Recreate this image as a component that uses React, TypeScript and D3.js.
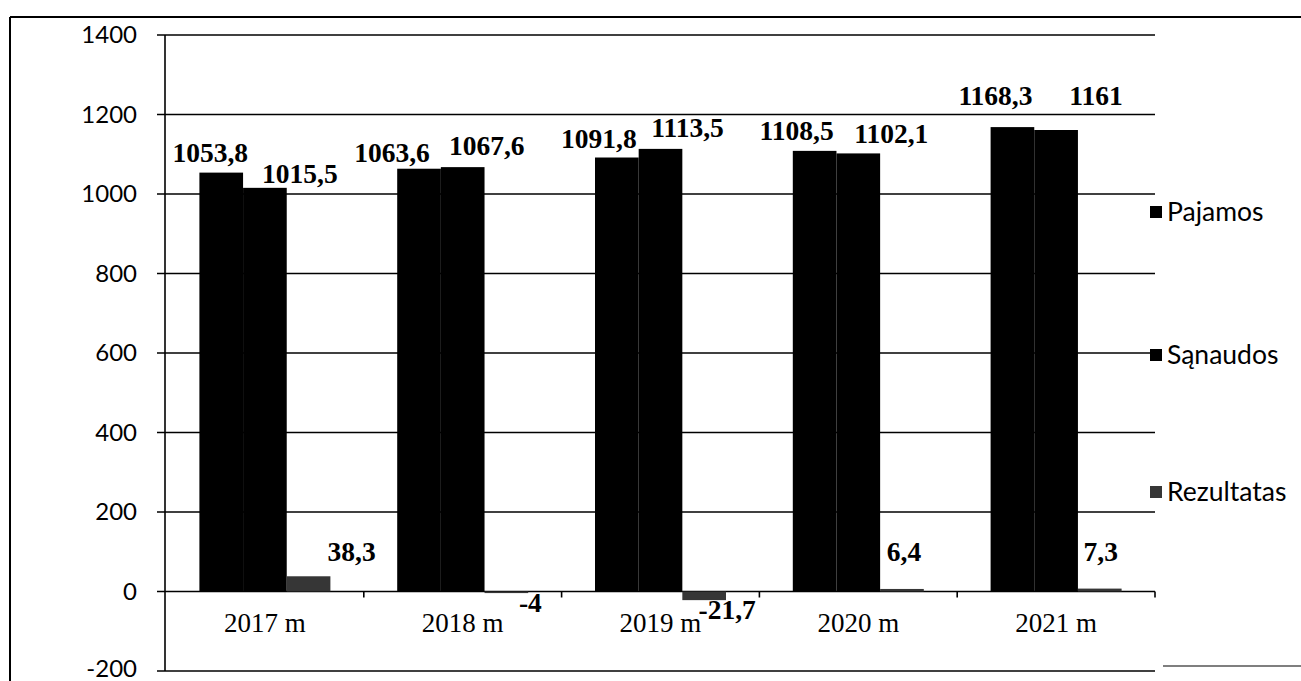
import React from "react";
import * as d3 from "d3";

const categories = ["2017 m", "2018 m", "2019 m", "2020 m", "2021 m"];
const seriesNames = ["Pajamos", "Sąnaudos", "Rezultatas"];
const pajamos = [1053.8, 1063.6, 1091.8, 1108.5, 1168.3];
const sanaudos = [1015.5, 1067.6, 1113.5, 1102.1, 1161];
const rezultatas = [38.3, -4, -21.7, 6.4, 7.3];
const valueLabels = [
  ["1053,8", "1063,6", "1091,8", "1108,5", "1168,3"],
  ["1015,5", "1067,6", "1113,5", "1102,1", "1161"],
  ["38,3", "-4", "-21,7", "6,4", "7,3"],
];
const yTicks = [-200, 0, 200, 400, 600, 800, 1000, 1200, 1400];

// label nudges [dx, dy] relative to bar centre / bar end (manually placed labels)
const labelNudges = [
  [[-11, -11], [-27, -7], [-18, -10], [-18, -11], [-17, -22]],
  [[35, -5], [24, -12], [27, -12], [33, -10], [40, -25]],
  [[43, -15], [24, 19], [23, 19], [2, -28], [1, -28]],
];

const colors = ["#000000", "#000000", "#363636"];

export default function App() {
  const W = 1301;
  const H = 681;
  const x0 = d3.scaleBand<string>().domain(categories).range([166, 1155]).paddingInner(0).paddingOuter(0);
  const bw = x0.bandwidth();
  const groupW = 131;
  const x1 = d3
    .scaleBand<string>()
    .domain(seriesNames)
    .range([(bw - groupW) / 2, (bw + groupW) / 2])
    .padding(0);
  const y = d3.scaleLinear().domain([-200, 1400]).range([671, 35]);
  const data = [pajamos, sanaudos, rezultatas];
  const plotLeft = 165;
  const plotRight = 1155;

  const legendY = [212, 355, 492];

  return (
    <svg
      width={W}
      height={H}
      style={{ position: "absolute", left: 0, top: 0, background: "#fff" }}
    >
      <rect x={0} y={0} width={W} height={H} fill="#fff" />
      {/* outer frame fragments */}
      <line x1={10} x2={W} y1={17} y2={17} stroke="#000" strokeWidth={2} />
      <line x1={10} x2={10} y1={17} y2={H} stroke="#000" strokeWidth={2} />
      <line x1={1163} x2={W} y1={666} y2={666} stroke="#000" strokeWidth={1.2} />

      {/* gridlines */}
      {yTicks.map((t) => (
        <g key={t}>
          <line
            x1={157}
            x2={plotRight}
            y1={y(t)}
            y2={y(t)}
            stroke="#000"
            strokeWidth={1.6}
          />
          <text
            x={137}
            y={t === -200 ? y(t) - 2 : y(t)}
            dy="0.35em"
            textAnchor="end"
            fontFamily="Lato, 'Open Sans', sans-serif"
            fontSize={24}
            fill="#000"
          >
            {t}
          </text>
        </g>
      ))}
      {/* y axis */}
      <line x1={plotLeft} x2={plotLeft} y1={y(1400)} y2={y(-200)} stroke="#000" strokeWidth={1.6} />

      {/* bars */}
      {data.map((vals, si) =>
        vals.map((v, ci) => {
          const bx = (x0(categories[ci]) as number) + (x1(seriesNames[si]) as number);
          const top = y(Math.max(0, v));
          const bot = y(Math.min(0, v));
          return (
            <rect
              key={`${si}-${ci}`}
              x={bx}
              y={top}
              width={x1.bandwidth()}
              height={Math.max(1.5, bot - top)}
              fill={colors[si]}
            />
          );
        })
      )}

      {/* x-axis ticks */}
      {categories.map((c) => (
        <line
          key={c}
          x1={(x0(c) as number) + bw}
          x2={(x0(c) as number) + bw}
          y1={y(0)}
          y2={y(0) + 6}
          stroke="#000"
          strokeWidth={1.6}
        />
      ))}

      {/* category labels */}
      {categories.map((c) => (
        <text
          key={c}
          x={(x0(c) as number) + bw / 2}
          y={632}
          textAnchor="middle"
          fontFamily="'Liberation Serif', 'Times New Roman', serif"
          fontSize={27}
          fill="#000"
        >
          {c}
        </text>
      ))}

      {/* value labels */}
      {data.map((vals, si) =>
        vals.map((v, ci) => {
          const cx =
            (x0(categories[ci]) as number) + (x1(seriesNames[si]) as number) + x1.bandwidth() / 2;
          const end = y(v);
          const [dx, dy] = labelNudges[si][ci];
          return (
            <text
              key={`l${si}-${ci}`}
              x={cx + dx}
              y={end + dy}
              textAnchor="middle"
              fontFamily="'Liberation Serif', 'Times New Roman', serif"
              fontWeight="bold"
              fontSize={27.5}
              fill="#000"
            >
              {valueLabels[si][ci]}
            </text>
          );
        })
      )}

      {/* legend */}
      {seriesNames.map((s, i) => (
        <g key={s}>
          <rect x={1150} y={legendY[i] - 6} width={12} height={12} fill={colors[i]} />
          <text
            x={1167}
            y={legendY[i]}
            dy="0.35em"
            fontFamily="Lato, 'Open Sans', sans-serif"
            fontSize={26.5}
            fill="#000"
          >
            {s}
          </text>
        </g>
      ))}
    </svg>
  );
}
